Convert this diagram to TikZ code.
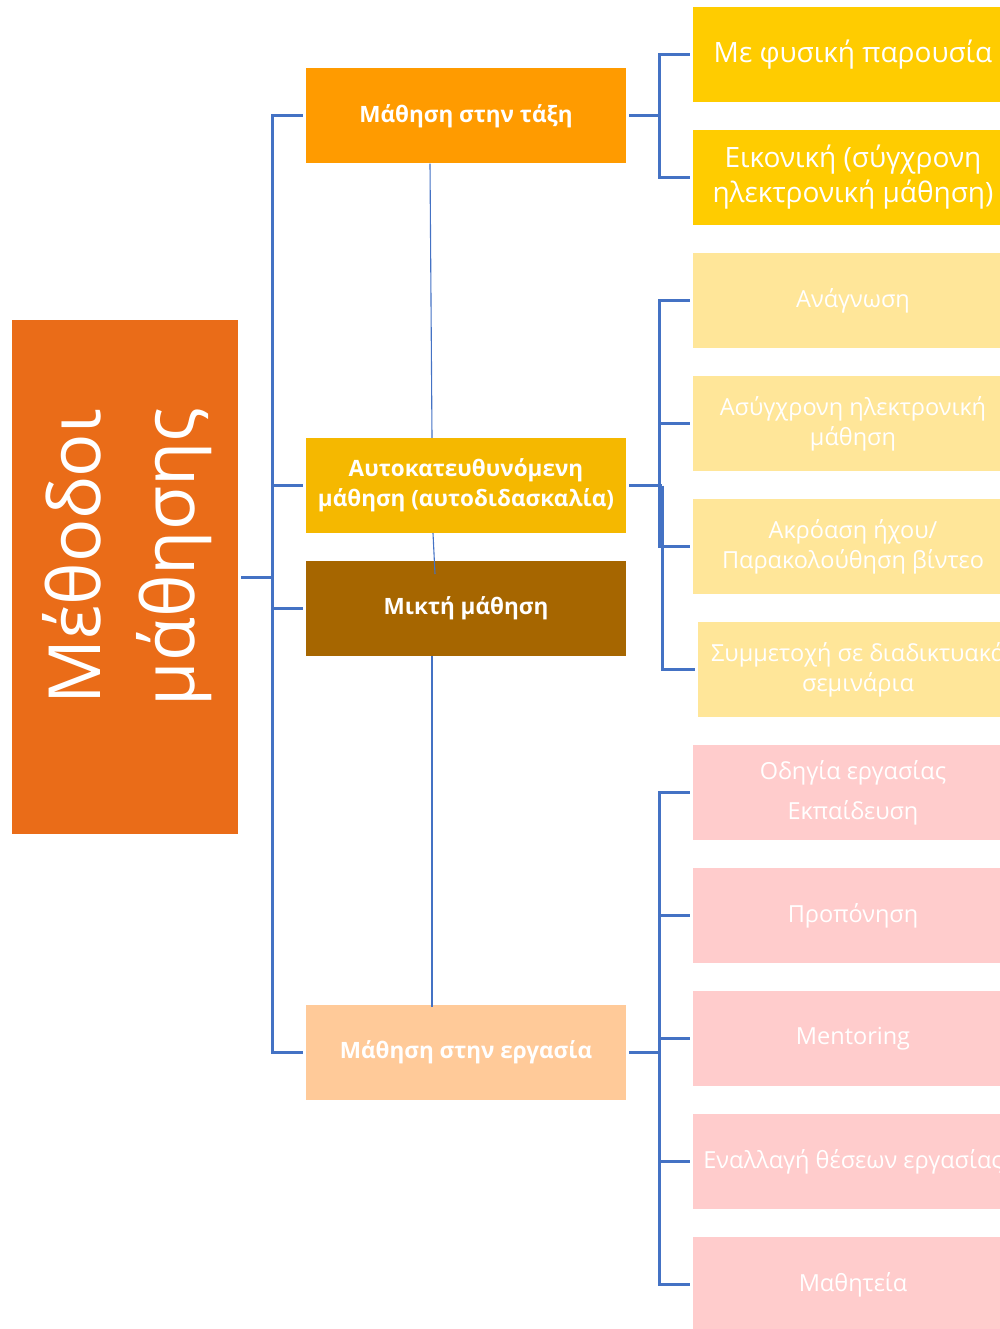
\documentclass[tikz,border=0pt]{standalone}
\usepackage{fontspec}
\setmainfont{Open Sans}
\definecolor{mainor}{RGB}{234,108,24}
\definecolor{aor}{RGB}{255,155,0}
\definecolor{byel}{RGB}{245,184,0}
\definecolor{cbr}{RGB}{166,102,0}
\definecolor{dpe}{RGB}{255,202,153}
\definecolor{ayel}{RGB}{255,204,0}
\definecolor{blt}{RGB}{255,230,153}
\definecolor{pnk}{RGB}{255,204,204}
\definecolor{lineblue}{RGB}{68,114,196}
\begin{document}
\begin{tikzpicture}[x=1pt,y=-1pt,
  box/.style={rectangle, inner sep=0pt, text=white, align=center},
  midbox/.style={box, minimum width=320pt, minimum height=95pt, font=\bfseries\fontsize{22.5}{30}\selectfont},
  rbox/.style={box, minimum width=320pt, minimum height=95pt, font=\fontsize{23.5}{30}\selectfont},
  abox/.style={box, minimum width=320pt, minimum height=95pt, font=\fontsize{28}{35}\selectfont},
  conn/.style={draw=lineblue, line width=3pt},
  thin/.style={draw=lineblue, line width=1.1pt}]
\useasboundingbox (0,0) rectangle (1000,1329);
\clip (0,0) rectangle (1000,1329);

% main box
\node[box, fill=mainor, minimum width=226pt, minimum height=514pt] (main) at (125,577) {};
\node[rotate=90, text=white, align=center, inner sep=0pt, font=\fontsize{72}{94}\selectfont] (mainlabel) at (127,557) {Μέθοδοι\\μάθησης};

% middle column
\node[midbox, fill=aor] (A) at (466,116) {Μάθηση στην τάξη};
\node[midbox, fill=byel] (B) at (466,485.5) {Αυτοκατευθυνόμενη\\μάθηση (αυτοδιδασκαλία)};
\node[midbox, fill=cbr] (C) at (466,608.5) {Μικτή μάθηση};
\node[midbox, fill=dpe] (D) at (466,1052.5) {Μάθηση στην εργασία};

% right column A
\node[abox, fill=ayel] (A1) at (853,54.5) {Με φυσική παρουσία};
\node[abox, fill=ayel] (A2) at (853,177.5) {Εικονική (σύγχρονη\\ηλεκτρονική μάθηση)};

% right column B
\node[rbox, fill=blt] (B1) at (853,300.5) {Ανάγνωση};
\node[rbox, fill=blt] (B2) at (853,423.5) {Ασύγχρονη ηλεκτρονική\\μάθηση};
\node[rbox, fill=blt] (B3) at (853,546.5) {Ακρόαση ήχου/\\Παρακολούθηση βίντεο};
\node[rbox, fill=blt] (B4) at (858,669.5) {Συμμετοχή σε διαδικτυακά\\σεμινάρια};

% right column D
\node[rbox, fill=pnk, font=\fontsize{23.5}{40}\selectfont] (D1) at (853,792.5) {Οδηγία εργασίας\\Εκπαίδευση};
\node[rbox, fill=pnk] (D2) at (853,915.5) {Προπόνηση};
\node[rbox, fill=pnk] (D3) at (853,1038.5) {Mentoring};
\node[rbox, fill=pnk] (D4) at (853,1161.5) {Εναλλαγή θέσεων εργασίας};
\node[rbox, fill=pnk] (D5) at (853,1284.5) {Μαθητεία};

% trunk coordinates
\coordinate (tx) at (272,0);
\coordinate (ax) at (659,0);
\coordinate (bx) at (662,0);

% main trunk
\draw[conn] ([xshift=3pt]main.east) -- (main.east -| tx);
\draw[conn] ([xshift=-3pt]A.west) -- (A.west -| tx) -- (D.west -| tx) -- ([xshift=-3pt]D.west);
\draw[conn] (B.west -| tx) -- ([xshift=-3pt]B.west);
\draw[conn] (C.west -| tx) -- ([xshift=-3pt]C.west);

% A branch
\draw[conn] ([xshift=3pt]A.east) -- (A.east -| ax);
\draw[conn] ([xshift=-3pt]A1.west) -- (A1.west -| ax) -- (A2.west -| ax) -- ([xshift=-3pt]A2.west);

% B branch
\draw[conn] ([xshift=3pt]B.east) -- (B.east -| bx);
\draw[conn] ([xshift=-3pt]B1.west) -- (B1.west -| ax) -- (B3.west -| ax) -- ([xshift=-3pt]B3.west);
\draw[conn] (B2.west -| ax) -- ([xshift=-3pt]B2.west);
\draw[conn] (B.east -| bx) -- (B4.west -| bx) -- ([xshift=-3pt]B4.west);

% D branch
\draw[conn] ([xshift=3pt]D.east) -- (D.east -| ax);
\draw[conn] ([xshift=-3pt]D1.west) -- (D1.west -| ax) -- (D5.west -| ax) -- ([xshift=-3pt]D5.west);
\draw[conn] (D2.west -| ax) -- ([xshift=-3pt]D2.west);
\draw[conn] (D3.west -| ax) -- ([xshift=-3pt]D3.west);
\draw[conn] (D4.west -| ax) -- ([xshift=-3pt]D4.west);

% thin links
\coordinate (cend) at (435,574);
\draw[thin] ([xshift=-36pt]A.south) -- ([xshift=-34pt]B.north);
\draw[thin] ([xshift=-33pt]B.south) -- (cend);
\draw[thin] ([xshift=-34pt]C.south) -- ([xshift=-34pt,yshift=-2pt]D.north);
\end{tikzpicture}
\end{document}
